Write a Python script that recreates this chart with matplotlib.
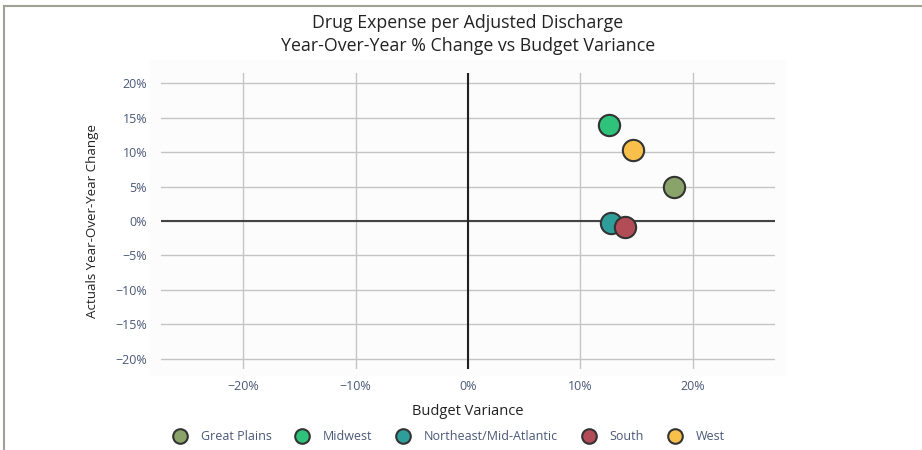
import matplotlib
matplotlib.use("Agg")
import matplotlib.pyplot as plt
from matplotlib.patches import Rectangle
from matplotlib.lines import Line2D

plt.rcParams['font.family'] = ['Open Sans', 'DejaVu Sans']

# regions and their values (in %)
regions = ["Great Plains", "Midwest", "Northeast/Mid-Atlantic", "South", "West"]
budget_variance = [18.3, 12.5, 12.7, 14.0, 14.7]
yoy_change = [4.9, 13.9, -0.3, -0.9, 10.3]
colors = ["#8aa36a", "#2ec27a", "#2e9e9a", "#b24c56", "#f8c04a"]

x_ticks = [-20, -10, 0, 10, 20]
y_ticks = [-20, -15, -10, -5, 0, 5, 10, 15, 20]

tick_color = "#4a5878"
edge = "#333333"

fig = plt.figure(figsize=(9.22, 4.5), dpi=100)

# cadre autour de la figure (coupé à droite et en bas)
fig.add_artist(Line2D([4 / 922, 1], [1 - 6 / 450, 1 - 6 / 450], color="#a0a094", lw=1.5))
fig.add_artist(Line2D([4 / 922, 4 / 922], [0, 1 - 6 / 450], color="#a0a094", lw=1.5))

# fond gris très clair de la zone de tracé
fig.add_artist(Rectangle((150 / 922, 75 / 450), 635 / 922, 315 / 450,
                         transform=fig.transFigure, color="#fcfcfc", zorder=0))

ax = fig.add_axes([161 / 922, 81 / 450, 614 / 922, 296 / 450])
ax.patch.set_alpha(0)
for s in ax.spines.values():
    s.set_visible(False)

ax.set_xlim(-27.3, 27.3)
ax.set_ylim(-21.5, 21.5)
ax.set_xticks(x_ticks)
ax.set_yticks(y_ticks)
ax.set_xticklabels([f"{v}%".replace("-", "\u2212") for v in x_ticks])
ax.set_yticklabels([f"{v}%".replace("-", "\u2212") for v in y_ticks])
ax.tick_params(length=0, labelsize=9, colors=tick_color)
ax.tick_params(axis="y", pad=10)
ax.tick_params(axis="x", pad=8)
ax.grid(True, color="#c4c4c4", lw=1)
ax.set_axisbelow(True)

ax.axhline(0, color="#444444", lw=1.5, zorder=1)
ax.axvline(0, color="#222222", lw=1.5, zorder=1)

for name, x, y, c in zip(regions, budget_variance, yoy_change, colors):
    ax.scatter(x, y, s=235, color=c, edgecolor=edge, linewidth=1.5, zorder=3, label=name)

ax.set_xlabel("Budget Variance", fontsize=10.5, color="#222222", labelpad=8)
ax.set_ylabel("Actuals Year-Over-Year Change", fontsize=9.6, color="#222222", labelpad=12)

fig.text(468 / 922, 1 - 28 / 450, "Drug Expense per Adjusted Discharge",
         ha="center", va="baseline", fontsize=12.75, color="#222222")
fig.text(468 / 922, 1 - 51 / 450, "Year-Over-Year % Change vs Budget Variance",
         ha="center", va="baseline", fontsize=12.75, color="#222222")

handles = [Line2D([], [], marker="o", ls="none", markersize=10.5, markerfacecolor=c,
                  markeredgecolor=edge, markeredgewidth=1.5) for c in colors]
leg = fig.legend(handles, regions, loc="center", bbox_to_anchor=(448 / 922, 1 - 437 / 450),
                 ncol=5, frameon=False, fontsize=9, handletextpad=0.97, columnspacing=1.75,
                 handlelength=1.4)
for t in leg.get_texts():
    t.set_color(tick_color)

fig.savefig("out.png", dpi=100)
